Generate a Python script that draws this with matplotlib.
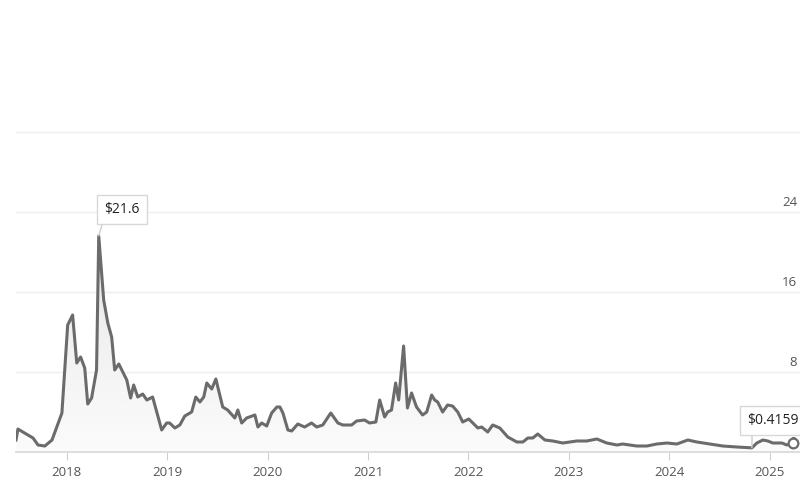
import numpy as np
import pandas as pd
import matplotlib.pyplot as plt
import matplotlib.dates as mdates

# 価格データ
dates = [
    '2017-06-30', '2017-07-07', '2017-07-25', '2017-08-31', '2017-09-18', '2017-10-13',
    '2017-11-08', '2017-12-14', '2018-01-04', '2018-01-22', '2018-02-06', '2018-02-20',
    '2018-03-07', '2018-03-18', '2018-04-01', '2018-04-19', '2018-04-27', '2018-05-15',
    '2018-05-30', '2018-06-13', '2018-06-24', '2018-07-09', '2018-08-07', '2018-08-21',
    '2018-09-01', '2018-09-16', '2018-10-04', '2018-10-19', '2018-11-09', '2018-12-12',
    '2018-12-30', '2019-01-10', '2019-01-29', '2019-02-16', '2019-03-06', '2019-03-31',
    '2019-04-15', '2019-04-30', '2019-05-14', '2019-05-25', '2019-06-12', '2019-06-27',
    '2019-07-22', '2019-08-09', '2019-09-04', '2019-09-15', '2019-09-29', '2019-10-17',
    '2019-11-16', '2019-11-27', '2019-12-11', '2019-12-29', '2020-01-16', '2020-02-04',
    '2020-02-15', '2020-02-26', '2020-03-15', '2020-03-29', '2020-04-20', '2020-05-15',
    '2020-06-09', '2020-06-28', '2020-07-20', '2020-08-18', '2020-09-13', '2020-10-01',
    '2020-11-02', '2020-11-20', '2020-12-19', '2021-01-06', '2021-01-29', '2021-02-12',
    '2021-03-02', '2021-03-13', '2021-03-27', '2021-04-11', '2021-04-22', '2021-05-10',
    '2021-05-24', '2021-06-08', '2021-06-26', '2021-07-18', '2021-08-02', '2021-08-20',
    '2021-08-31', '2021-09-11', '2021-09-29', '2021-10-17', '2021-11-04', '2021-11-23',
    '2021-12-11', '2022-01-02', '2022-01-17', '2022-02-04', '2022-02-18', '2022-03-12',
    '2022-03-30', '2022-04-25', '2022-05-24', '2022-06-26', '2022-07-18', '2022-08-05',
    '2022-08-23', '2022-09-10', '2022-10-06', '2022-11-04', '2022-12-10', '2023-01-05',
    '2023-01-30', '2023-03-07', '2023-04-13', '2023-05-19', '2023-06-25', '2023-07-16',
    '2023-09-05', '2023-10-12', '2023-11-17', '2023-12-24', '2024-01-29', '2024-03-09',
    '2024-04-11', '2024-05-28', '2024-07-14', '2024-09-03', '2024-10-28', '2024-11-15',
    '2024-12-07', '2024-12-25', '2025-01-12', '2025-02-14', '2025-03-04', '2025-03-26',
]
prices = [
    1.2, 2.3, 2.0, 1.4, 0.7, 0.6,
    1.2, 3.9, 12.7, 13.7, 8.9, 9.5,
    8.4, 4.8, 5.4, 8.2, 21.6, 15.2,
    12.9, 11.5, 8.2, 8.8, 7.2, 5.4,
    6.7, 5.5, 5.8, 5.2, 5.5, 2.2,
    2.9, 2.9, 2.4, 2.7, 3.6, 4.0,
    5.5, 5.0, 5.5, 6.9, 6.3, 7.3,
    4.5, 4.2, 3.4, 4.2, 2.9, 3.4,
    3.7, 2.5, 2.9, 2.6, 3.9, 4.5,
    4.5, 3.9, 2.2, 2.1, 2.8, 2.5,
    2.9, 2.5, 2.7, 3.9, 2.9, 2.7,
    2.7, 3.1, 3.2, 2.9, 3.0, 5.2,
    3.5, 4.0, 4.2, 6.9, 5.2, 10.6,
    4.4, 5.9, 4.5, 3.7, 4.0, 5.7,
    5.2, 5.0, 4.0, 4.7, 4.6, 4.0,
    3.0, 3.3, 2.9, 2.4, 2.5, 2.0,
    2.7, 2.4, 1.5, 1.0, 1.0, 1.4,
    1.4, 1.8, 1.2, 1.1, 0.9, 1.0,
    1.1, 1.1, 1.3, 0.9, 0.7, 0.8,
    0.6, 0.6, 0.8, 0.9, 0.8, 1.2,
    1.0, 0.8, 0.6, 0.5, 0.4159, 0.9,
    1.2, 1.1, 0.9, 0.9, 0.7, 0.9,
]
y_ticks = [0, 8, 16, 24, 32]
y_labels = ['0', '8', '16', '24']
x_start, x_end = '2017-06-30', '2025-04-21'

plt.rcParams['font.family'] = ['Open Sans', 'DejaVu Sans']

t = pd.to_datetime(dates)

fig = plt.figure(figsize=(8, 5), dpi=100)
ax = fig.add_axes([0.02, 0.096, 0.98, 0.65])
ax.set_xlim(pd.Timestamp(x_start), pd.Timestamp(x_end))
ax.set_ylim(0, 32.5)

# 塗りつぶし（グラデーション）
poly = ax.fill_between(t, prices, 0, color='none')
grad = np.linspace(0, 1, 256).reshape(-1, 1)
img = ax.imshow(grad, cmap='Greys', vmin=-0.2, vmax=6.0, aspect='auto',
                extent=[mdates.date2num(t[0]), mdates.date2num(t[-1]), 0, max(prices)],
                origin='lower', zorder=1)
img.set_clip_path(poly.get_paths()[0], transform=ax.transData)

ax.plot(t, prices, color='#6b6b6b', lw=2.2, zorder=3, solid_joinstyle='round')
ax.plot(t[-1:], prices[-1:], marker='o', ms=7, mfc='white', mec='#6b6b6b', mew=1.6, zorder=4)

# グリッドと軸
ax.set_yticks(y_ticks)
ax.yaxis.grid(True, color='#eeeeee', lw=1)
ax.set_axisbelow(True)
ax.tick_params(axis='y', length=0, labelleft=False)
for sp in ['top', 'right', 'left']:
    ax.spines[sp].set_visible(False)
ax.spines['bottom'].set_color('#d8d8d8')
ax.spines['bottom'].set_linewidth(1.2)
for v, lab in zip(y_ticks, y_labels):
    ax.annotate(lab, xy=(1, v), xycoords=('axes fraction', 'data'), xytext=(-2, 2),
                textcoords='offset points', ha='right', va='bottom',
                fontsize=9.5, color='#555555')

ax.xaxis.set_major_locator(mdates.YearLocator())
ax.xaxis.set_major_formatter(mdates.DateFormatter('%Y'))
ax.tick_params(axis='x', length=6, color='#d0d0d0', labelsize=9.5, labelcolor='#555555', pad=4)

# 注釈
imax = int(np.argmax(prices))
imin = int(np.argmin(prices))
box = dict(boxstyle='square,pad=0.5', fc='white', ec='#d8d8d8', lw=1)
ax.annotate(f'${prices[imax]}', xy=(t[imax], prices[imax]), xytext=(4, 13.5),
            textcoords='offset points', ha='left', va='bottom', fontsize=10, color='#222222',
            bbox=box, zorder=5,
            arrowprops=dict(arrowstyle='-', color='#cccccc', lw=1, relpos=(0, 0),
                            shrinkA=0, shrinkB=0))
ax.annotate(f'${prices[imin]}', xy=(t[imin], prices[imin]), xytext=(-3.5, 14),
            textcoords='offset points', ha='left', va='bottom', fontsize=10, color='#222222',
            bbox=box, zorder=5,
            arrowprops=dict(arrowstyle='-', color='#cccccc', lw=1, relpos=(0.1, 0),
                            shrinkA=0, shrinkB=0))

fig.savefig('out.png', dpi=100)
